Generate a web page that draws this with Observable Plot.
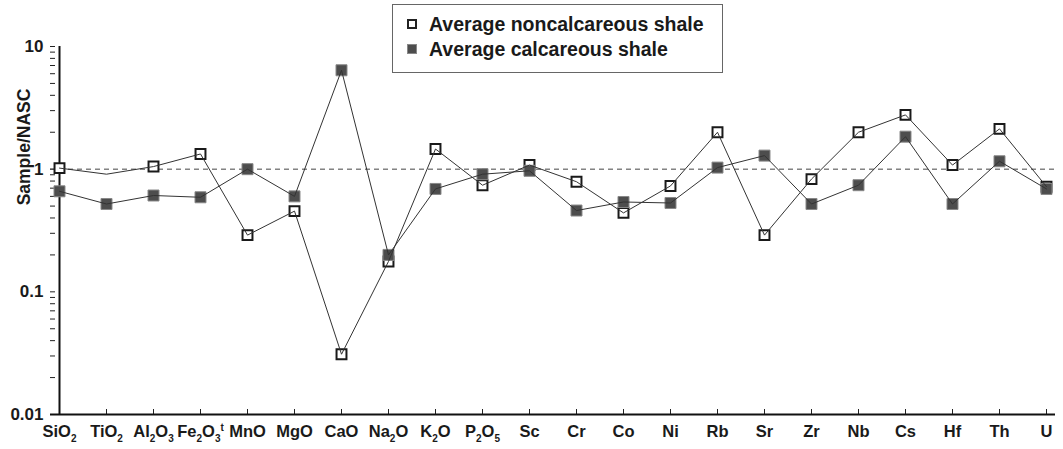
<!DOCTYPE html>
<html><head><meta charset="utf-8">
<script src="https://cdn.jsdelivr.net/npm/d3@7"></script>
<script src="https://cdn.jsdelivr.net/npm/@observablehq/plot@0.6"></script>
<style>
body{margin:0;background:#fff;font-family:"Liberation Sans",Arial,sans-serif;}
#wrap{position:relative;width:1063px;height:449px;}
#legend{position:absolute;left:392px;top:4px;width:331px;height:69px;border:1px solid #666;box-sizing:border-box;background:#fff;font-weight:bold;font-size:19.5px;color:#1a1a1a;}
.item{position:absolute;left:14px;display:flex;align-items:center;height:22px;}
.sw{width:10px;height:10px;box-sizing:border-box;margin-right:12px;}
.open{background:#fff;border:2px solid #222;}
.fill{background:#4d4d4d;border:1px solid #888;}
</style></head>
<body><div id="wrap"><div id="chart"></div>
<div id="legend">
<div class="item" style="top:8px"><div class="sw open"></div><span id="l1"></span></div>
<div class="item" style="top:33px"><div class="sw fill"></div><span id="l2"></span></div>
</div></div>
<script>
const categories = ["SiO2","TiO2","Al2O3","Fe2O3t","MnO","MgO","CaO","Na2O","K2O","P2O5","Sc","Cr","Co","Ni","Rb","Sr","Zr","Nb","Cs","Hf","Th","U"];
const tickLabels = ["SiO_2","TiO_2","Al_2O_3","Fe_2O_3^t","MnO","MgO","CaO","Na_2O","K_2O","P_2O_5","Sc","Cr","Co","Ni","Rb","Sr","Zr","Nb","Cs","Hf","Th","U"];
const noncalcareous = [1.02,0.91,1.05,1.33,0.29,0.455,0.031,0.177,1.46,0.74,1.08,0.79,0.44,0.73,2.0,0.29,0.83,2.0,2.77,1.08,2.13,0.72];
const calcareous = [0.66,0.52,0.61,0.59,1.0,0.60,6.4,0.20,0.69,0.91,0.97,0.46,0.54,0.53,1.03,1.29,0.52,0.74,1.84,0.52,1.16,0.69];
const noncalcUnmarked = ["TiO2"];
const seriesNames = ["Average noncalcareous shale","Average calcareous shale"];
const yTicks = [0.01,0.1,1,10];
const yTitle = "Sample/NASC";
const referenceLevel = 1;

document.getElementById("l1").textContent = seriesNames[0];
document.getElementById("l2").textContent = seriesNames[1];

const W = 1063, H = 449, mL = 50, mR = 8, mT = 46, mB = 35;
const frameW = W - mL - mR, frameH = H - mT - mB;
const nonData = categories.map((c,i)=>({cat:c, v:noncalcareous[i]}));
const calData = categories.map((c,i)=>({cat:c, v:calcareous[i]}));
const minorTicks = [];
for (let d = 0; d < yTicks.length - 1; d++) for (let k = 2; k <= 9; k++) minorTicks.push(yTicks[d]*k);
const allTicks = yTicks.concat(minorTicks);

const svg = Plot.plot({
  width: W, height: H, marginLeft: mL, marginRight: mR, marginTop: mT, marginBottom: mB,
  x: {type: "point", domain: categories, padding: 0},
  y: {type: "log", domain: [0.01, 10]},
  style: {fontFamily: "Liberation Sans, Arial, sans-serif", fontWeight: "bold", color: "#1a1a1a", background: "white"},
  marks: [
    Plot.axisX({tickSize: 0, tickPadding: 11, fontSize: 16.5, fontWeight: "bold", label: null}),
    Plot.axisY({ticks: yTicks, tickSize: 0, tickPadding: 7, fontSize: 17, fontWeight: "bold", tickFormat: d => String(d), label: null}),
    Plot.ruleY(allTicks, {insetRight: frameW - 5, stroke: "#222", strokeWidth: 1}),
    Plot.ruleX(categories, {insetTop: frameH - 5, stroke: "#222", strokeWidth: 1}),
    Plot.ruleY([referenceLevel], {stroke: "#444", strokeWidth: 1, strokeDasharray: "5,4"}),
    Plot.ruleY([0.01], {stroke: "#111", strokeWidth: 2}),
    Plot.ruleX([categories[0]], {stroke: "#111", strokeWidth: 2}),
    Plot.dot(nonData.filter(d => !noncalcUnmarked.includes(d.cat)), {x: "cat", y: "v", symbol: "square", r: 5.6, fill: "white", stroke: "#1a1a1a", strokeWidth: 2}),
    Plot.dot(calData, {x: "cat", y: "v", symbol: "square", r: 6.2, fill: "#4d4d4d", stroke: "#888", strokeWidth: 1}),
    Plot.line(nonData, {x: "cat", y: "v", stroke: "#333", strokeWidth: 1}),
    Plot.line(calData, {x: "cat", y: "v", stroke: "#333", strokeWidth: 1})
  ]
});
document.getElementById("chart").appendChild(svg);

// subscripts / superscripts in x tick labels
const labelMap = new Map(categories.map((c,i)=>[c, tickLabels[i]]));
d3.select(svg).selectAll('g[aria-label="x-axis tick label"] text').each(function(){
  const t = d3.select(this);
  const m = labelMap.get(t.text());
  if (!m) return;
  t.text("");
  const parts = m.match(/[_^].|[^_^]+/g);
  let cur = 0;
  for (const p of parts) {
    if (p[0] === "_") { t.append("tspan").attr("dy", 5 - cur).attr("font-size", 10).text(p.slice(1)); cur = 5; }
    else if (p[0] === "^") { t.append("tspan").attr("dy", -6 - cur).attr("font-size", 10).text(p.slice(1)); cur = -6; }
    else { t.append("tspan").attr("dy", -cur).text(p); cur = 0; }
  }
});

d3.select(svg).append("text")
  .attr("transform", "translate(24,147) rotate(-90)")
  .attr("text-anchor", "middle").attr("dominant-baseline", "central")
  .attr("font-size", 17.5).attr("font-weight", "bold").attr("fill", "#1a1a1a")
  .text(yTitle);
</script></body></html>
